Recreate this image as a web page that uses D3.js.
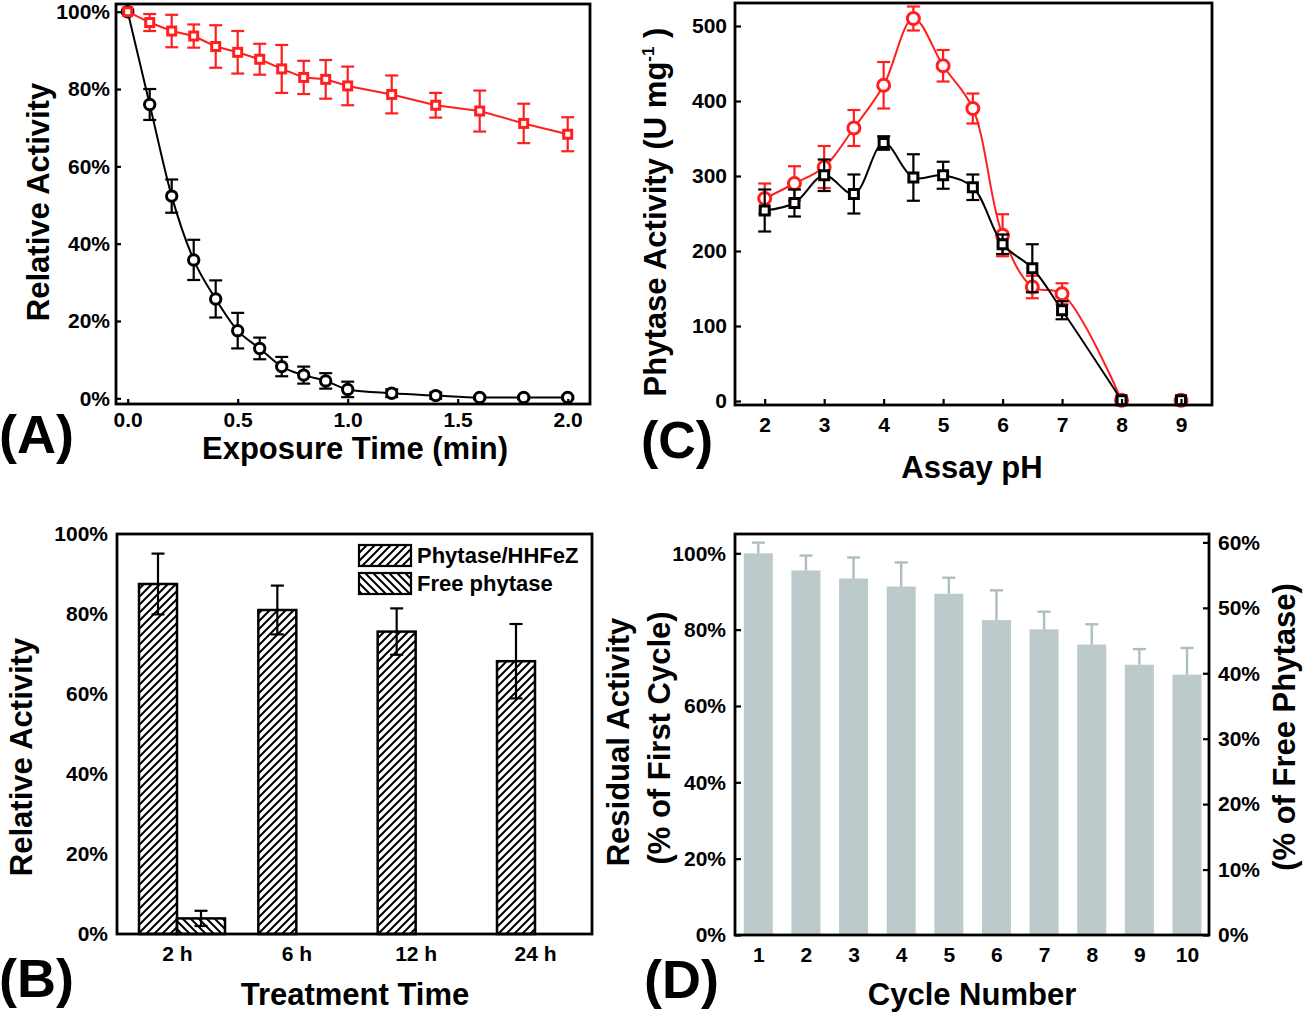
<!DOCTYPE html>
<html>
<head>
<meta charset="utf-8">
<script src="https://cdn.jsdelivr.net/npm/d3@7"></script>
<style>
  body { margin: 0; background: #fff; }
  text { font-family: "Liberation Sans", Arial, sans-serif; font-weight: bold; }
</style>
</head>
<body>
<svg id="fig" width="1304" height="1018"></svg>
<script>
// ---- panel A : exposure time ----
const timeA = [0, 0.1, 0.2, 0.3, 0.4, 0.5, 0.6, 0.7, 0.8, 0.9, 1.0, 1.2, 1.4, 1.6, 1.8, 2.0];
const squaresA = [100, 97.2, 95, 93.7, 91, 89.5, 87.7, 85.2, 83, 82.5, 80.8, 78.6, 75.8, 74.3, 71.1, 68.3];
const squaresAErr = [0, 2.2, 4.2, 3, 5.5, 5.5, 4, 6.2, 4.3, 5, 5, 4.9, 3.2, 5.3, 5.1, 4.4];
const circlesA = [100, 76, 52.3, 35.8, 25.7, 17.5, 12.9, 8.2, 6, 4.5, 2.3, 1.3, 0.7, 0.2, 0.2, 0.2];
const circlesAErr = [0.5, 4, 4.3, 5.2, 4.8, 4.6, 2.8, 2.5, 2.2, 2, 2, 1, 0.8, 0.4, 0.4, 0.4];
const ticksA = [0, 0.5, 1, 1.5, 2];
const pctTicks = [0, 20, 40, 60, 80, 100];

// ---- panel B : treatment time ----
const treatTimes = ["2 h", "6 h", "12 h", "24 h"];
const hhfezB = [87.5, 81, 75.6, 68.2];
const hhfezBErr = [7.6, 6.1, 5.8, 9.3];
const freeB = [3.9, 0, 0, 0];
const freeBErr = [1.9, 0, 0, 0];
const legendB = ["Phytase/HHFeZ", "Free phytase"];

// ---- panel C : assay pH ----
const assayPH = [2, 2.5, 3, 3.5, 4, 4.5, 5, 5.5, 6, 6.5, 7, 8, 9];
const circlesC = [270, 290, 312, 364, 421, 510, 447, 390, 221, 152, 143, 1, 1];
const circlesCErr = [20, 23, 28, 24, 31, 16, 21, 20, 28, 15, 14, 0, 0];
const squaresC = [254, 264, 301, 276, 344, 298, 301, 285, 209, 177, 121, 1, 1];
const squaresCErr = [28, 18, 21, 26, 9, 31, 18, 17, 13, 32, 12, 0, 0];
const ticksCx = [2, 3, 4, 5, 6, 7, 8, 9];
const ticksCy = [0, 100, 200, 300, 400, 500];

// ---- panel D : reuse cycles ----
const cycles = [1, 2, 3, 4, 5, 6, 7, 8, 9, 10];
const residual = [100, 95.5, 93.4, 91.3, 89.4, 82.5, 80.1, 76.1, 70.8, 68.2];
const residualErr = [2.8, 3.9, 5.5, 6.3, 4.2, 7.8, 4.6, 5.3, 4.1, 7.0];
const ticksDright = [0, 10, 20, 30, 40, 50, 60];

const RED = "#ff1f1f";
const svg = d3.select("#fig");

const defs = svg.append("defs");
function hatch(id, d) {
  defs.append("pattern")
    .attr("id", id)
    .attr("patternUnits", "userSpaceOnUse")
    .attr("width", 8).attr("height", 8)
    .append("path")
    .attr("d", d)
    .attr("stroke", "#000")
    .attr("stroke-width", 2);
}
hatch("fwd", "M-2,2 L2,-2 M0,8 L8,0 M6,10 L10,6");
hatch("back", "M-2,6 L2,10 M0,0 L8,8 M6,-2 L10,2");

function frame(b) {
  svg.append("rect")
    .attr("x", b.x).attr("y", b.y).attr("width", b.w).attr("height", b.h)
    .attr("fill", "none").attr("stroke", "#000").attr("stroke-width", 2.8);
}

function styleAxis(g) {
  g.select(".domain").remove();
  g.attr("font-size", 21).attr("font-family", null);
  g.selectAll("line").attr("stroke-width", 2.2);
}

function text(x, y, str, size, opts = {}) {
  const t = svg.append("text")
    .attr("x", x).attr("y", y)
    .attr("font-size", size)
    .attr("text-anchor", opts.anchor || "middle")
    .text(str);
  if (opts.rotate) t.attr("transform", `rotate(-90,${x},${y})`);
  return t;
}

function errorBars(g, pts, color, cap, width, upOnly) {
  const eg = g.append("g").attr("stroke", color).attr("stroke-width", width);
  pts.filter(p => p.e > 0).forEach(p => {
    const top = p.y(p.v + p.e), bot = upOnly ? p.y(p.v) : p.y(p.v - p.e);
    eg.append("line").attr("x1", p.x).attr("x2", p.x).attr("y1", top).attr("y2", bot);
    eg.append("line").attr("x1", p.x - cap / 2).attr("x2", p.x + cap / 2).attr("y1", top).attr("y2", top);
    if (!upOnly) eg.append("line").attr("x1", p.x - cap / 2).attr("x2", p.x + cap / 2).attr("y1", bot).attr("y2", bot);
  });
}

function squares(g, pts, color, side) {
  g.selectAll(null).data(pts).join("rect")
    .attr("x", d => d.px - side / 2).attr("y", d => d.py - side / 2)
    .attr("width", side).attr("height", side)
    .attr("fill", "#fff").attr("stroke", color).attr("stroke-width", 3);
}

function circles(g, pts, color, r) {
  g.selectAll(null).data(pts).join("circle")
    .attr("cx", d => d.px).attr("cy", d => d.py).attr("r", r)
    .attr("fill", "#fff").attr("stroke", color).attr("stroke-width", 3);
}

// ================= Panel A =================
const boxA = { x: 116, y: 4, w: 474, h: 400 };
const xA = d3.scaleLinear().domain([0, 2]).range([127.7, 567.7]);
const yA = d3.scaleLinear().domain([0, 100]).range([398.3, 11.7]);
const gA = svg.append("g");

svg.append("g").attr("transform", `translate(0,${boxA.y + boxA.h})`)
  .call(d3.axisBottom(xA).tickValues(ticksA).tickFormat(d3.format(".1f")).tickSize(-5).tickPadding(8))
  .call(styleAxis);
svg.append("g").attr("transform", `translate(${boxA.x},0)`)
  .call(d3.axisLeft(yA).tickValues(pctTicks).tickFormat(d => d + "%").tickSize(-5).tickPadding(6))
  .call(styleAxis);

const ptsCA = timeA.map((t, i) => ({ px: xA(t), py: yA(circlesA[i]), x: xA(t), v: circlesA[i], e: circlesAErr[i], y: yA }));
const ptsSA = timeA.map((t, i) => ({ px: xA(t), py: yA(squaresA[i]), x: xA(t), v: squaresA[i], e: squaresAErr[i], y: yA }));

gA.append("path").datum(ptsCA)
  .attr("d", d3.line().x(d => d.px).y(d => d.py).curve(d3.curveMonotoneX))
  .attr("fill", "none").attr("stroke", "#000").attr("stroke-width", 2);
errorBars(gA, ptsCA, "#000", 13, 2.2, false);
circles(gA, ptsCA, "#000", 5.2);

gA.append("path").datum(ptsSA)
  .attr("d", d3.line().x(d => d.px).y(d => d.py))
  .attr("fill", "none").attr("stroke", RED).attr("stroke-width", 2);
errorBars(gA, ptsSA, RED, 13, 2.2, false);
squares(gA, ptsSA, RED, 8);
frame(boxA);

text(49, 202, "Relative Activity", 31, { rotate: true });
text(355, 459, "Exposure Time (min)", 31);
text(-1, 453, "(A)", 54, { anchor: "start" });

// ================= Panel B =================
const boxB = { x: 117, y: 534, w: 475, h: 400 };
const xB = d3.scalePoint().domain(treatTimes).range([177, 535]);
const yB = d3.scaleLinear().domain([0, 100]).range([934, 534]);
const barW = 38, freeW = 48;
const gB = svg.append("g");

svg.append("g").attr("transform", `translate(0,${boxB.y + boxB.h})`)
  .call(d3.axisBottom(xB).tickSize(0).tickPadding(12))
  .call(styleAxis);
svg.append("g").attr("transform", `translate(${boxB.x},0)`)
  .call(d3.axisLeft(yB).tickValues(pctTicks).tickFormat(d => d + "%").tickSize(0).tickPadding(9))
  .call(styleAxis);

gB.selectAll(null).data(treatTimes).join("rect")
  .attr("x", d => xB(d) - barW)
  .attr("y", (d, i) => yB(hhfezB[i]))
  .attr("width", barW)
  .attr("height", (d, i) => yB(0) - yB(hhfezB[i]))
  .attr("fill", "url(#fwd)").attr("stroke", "#000").attr("stroke-width", 2.5);
gB.selectAll(null).data(treatTimes.filter((d, i) => freeB[i] > 0)).join("rect")
  .attr("x", d => xB(d))
  .attr("y", d => yB(freeB[treatTimes.indexOf(d)]))
  .attr("width", freeW)
  .attr("height", d => yB(0) - yB(freeB[treatTimes.indexOf(d)]))
  .attr("fill", "url(#back)").attr("stroke", "#000").attr("stroke-width", 2.5);

errorBars(gB, treatTimes.map((d, i) => ({ x: xB(d) - barW / 2, v: hhfezB[i], e: hhfezBErr[i], y: yB })), "#000", 13, 2.2, false);
errorBars(gB, treatTimes.map((d, i) => ({ x: xB(d) + freeW / 2, v: freeB[i], e: freeBErr[i], y: yB })), "#000", 13, 2.2, false);
frame(boxB);

const legG = svg.append("g");
legendB.forEach((name, i) => {
  legG.append("rect")
    .attr("x", 359).attr("y", 545 + i * 28).attr("width", 52).attr("height", 21)
    .attr("fill", i === 0 ? "url(#fwd)" : "url(#back)")
    .attr("stroke", "#000").attr("stroke-width", 2.2);
  legG.append("text")
    .attr("x", 417).attr("y", 563 + i * 28)
    .attr("font-size", 22)
    .text(name);
});

text(32, 757, "Relative Activity", 31, { rotate: true });
text(355, 1005, "Treatment Time", 31);
text(-1, 997, "(B)", 54, { anchor: "start" });

// ================= Panel C =================
const boxC = { x: 735, y: 3, w: 477, h: 402 };
const xC = d3.scaleLinear().domain([2, 9]).range([764.7, 1181]);
const yC = d3.scaleLinear().domain([0, 500]).range([401, 26]);
const gC = svg.append("g");

svg.append("g").attr("transform", `translate(0,${boxC.y + boxC.h})`)
  .call(d3.axisBottom(xC).tickValues(ticksCx).tickFormat(d3.format("d")).tickSize(-6).tickPadding(12))
  .call(styleAxis);
svg.append("g").attr("transform", `translate(${boxC.x},0)`)
  .call(d3.axisLeft(yC).tickValues(ticksCy).tickSize(-6).tickPadding(8))
  .call(styleAxis);

const ptsCC = assayPH.map((p, i) => ({ px: xC(p), py: yC(circlesC[i]), x: xC(p), v: circlesC[i], e: circlesCErr[i], y: yC }));
const ptsSC = assayPH.map((p, i) => ({ px: xC(p), py: yC(squaresC[i]), x: xC(p), v: squaresC[i], e: squaresCErr[i], y: yC }));
const splineC = d3.line().x(d => d.px).y(d => d.py).curve(d3.curveCatmullRom.alpha(0.5));

gC.append("path").datum(ptsCC.filter((d, i) => assayPH[i] <= 8))
  .attr("d", splineC).attr("fill", "none").attr("stroke", RED).attr("stroke-width", 2);
errorBars(gC, ptsCC, RED, 13, 2.2, false);
circles(gC, ptsCC, RED, 6);

gC.append("path").datum(ptsSC.filter((d, i) => assayPH[i] <= 8))
  .attr("d", splineC).attr("fill", "none").attr("stroke", "#000").attr("stroke-width", 2);
errorBars(gC, ptsSC, "#000", 13, 2.2, false);
squares(gC, ptsSC, "#000", 9);
frame(boxC);

const yTitleC = text(666, 212, "Phytase Activity (U mg", 31, { rotate: true });
yTitleC.append("tspan").attr("font-size", 17).attr("dy", -12).text("-1");
yTitleC.append("tspan").attr("dy", 12).text(" )");
text(972, 478, "Assay pH", 31);
text(641, 458, "(C)", 52, { anchor: "start" });

// ================= Panel D =================
const boxD = { x: 735, y: 534, w: 474, h: 401 };
const xD = d3.scalePoint().domain(cycles).range([758.3, 1187]);
const yD = d3.scaleLinear().domain([0, 100]).range([935, 553.3]);
const yDr = d3.scaleLinear().domain([0, 60]).range([935, 542.4]);
const barWD = 29;
const gD = svg.append("g");

svg.append("g").attr("transform", `translate(0,${boxD.y + boxD.h})`)
  .call(d3.axisBottom(xD).tickSize(0).tickPadding(12))
  .call(styleAxis);
svg.append("g").attr("transform", `translate(${boxD.x},0)`)
  .call(d3.axisLeft(yD).tickValues(pctTicks).tickFormat(d => d + "%").tickSize(-6).tickPadding(9))
  .call(styleAxis);
svg.append("g").attr("transform", `translate(${boxD.x + boxD.w},0)`)
  .call(d3.axisRight(yDr).tickValues(ticksDright).tickFormat(d => d + "%").tickSize(-6).tickPadding(9))
  .call(styleAxis);

gD.selectAll(null).data(cycles).join("rect")
  .attr("x", d => xD(d) - barWD / 2)
  .attr("y", (d, i) => yD(residual[i]))
  .attr("width", barWD)
  .attr("height", (d, i) => yD(0) - yD(residual[i]))
  .attr("fill", "#bdcacc");
errorBars(gD, cycles.map((c, i) => ({ x: xD(c), v: residual[i], e: residualErr[i], y: yD })), "#aebdbf", 13, 2.4, true);
frame(boxD);

text(629, 742, "Residual Activity", 31, { rotate: true });
text(670, 738, "(% of First Cycle)", 31, { rotate: true });
text(1295, 727, "(% of Free Phytase)", 31, { rotate: true });
text(972, 1005, "Cycle Number", 31);
text(644, 998, "(D)", 54, { anchor: "start" });
</script>
</body>
</html>
